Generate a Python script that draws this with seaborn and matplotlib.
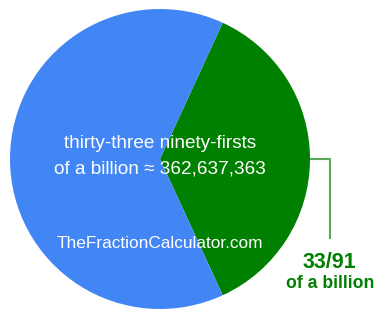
import matplotlib
matplotlib.use("Agg")
import matplotlib.pyplot as plt
import seaborn as sns

# Data
categories = ["33/91 of a billion", "remainder"]
values = [33, 58]
colors = ["#008000", "#4285F4"]
center_lines = ["thirty-three ninety-firsts", "of a billion \u2248 362,637,363"]
watermark = "TheFractionCalculator.com"
label_top = "33/91"
label_bottom = "of a billion"

sns.set_theme(style="white")
plt.rcParams['font.family'] = ['Liberation Sans', 'DejaVu Sans']

W, H = 385, 320
fig = plt.figure(figsize=(W / 100, H / 100), dpi=100)
ax = fig.add_axes([0, 0, 1, 1])
ax.set_xlim(0, W)
ax.set_ylim(0, H)
ax.set_aspect("equal")
ax.axis("off")

cx, cy, r = 160, H - 159, 150
half = values[0] / sum(values) * 360 / 2
ax.pie(values, colors=colors, startangle=-half, counterclock=True,
       center=(cx, cy), radius=r, frame=True,
       wedgeprops=dict(linewidth=0))
ax.set_xlim(0, W)
ax.set_ylim(0, H)
ax.axis("off")

# center texts
ax.text(160, H - 144, center_lines[0], color="white", fontsize=13.7,
        ha="center", va="center")
ax.text(160, H - 169, center_lines[1], color="white", fontsize=13.7,
        ha="center", va="center")
ax.text(160, H - 244, watermark, color="white", fontsize=12.4,
        ha="center", va="center")

# leader line
ax.plot([310, 330, 330], [H - 159, H - 159, H - 239], color="#5aa85a",
        linewidth=1.5, solid_capstyle="butt")
ax.text(329, H - 263, label_top, color="#008000", fontsize=15.5,
        fontweight="bold", ha="center", va="center")
ax.text(330, H - 284, label_bottom, color="#008000", fontsize=12.7,
        fontweight="bold", ha="center", va="center")

fig.savefig("out.png", dpi=100)
